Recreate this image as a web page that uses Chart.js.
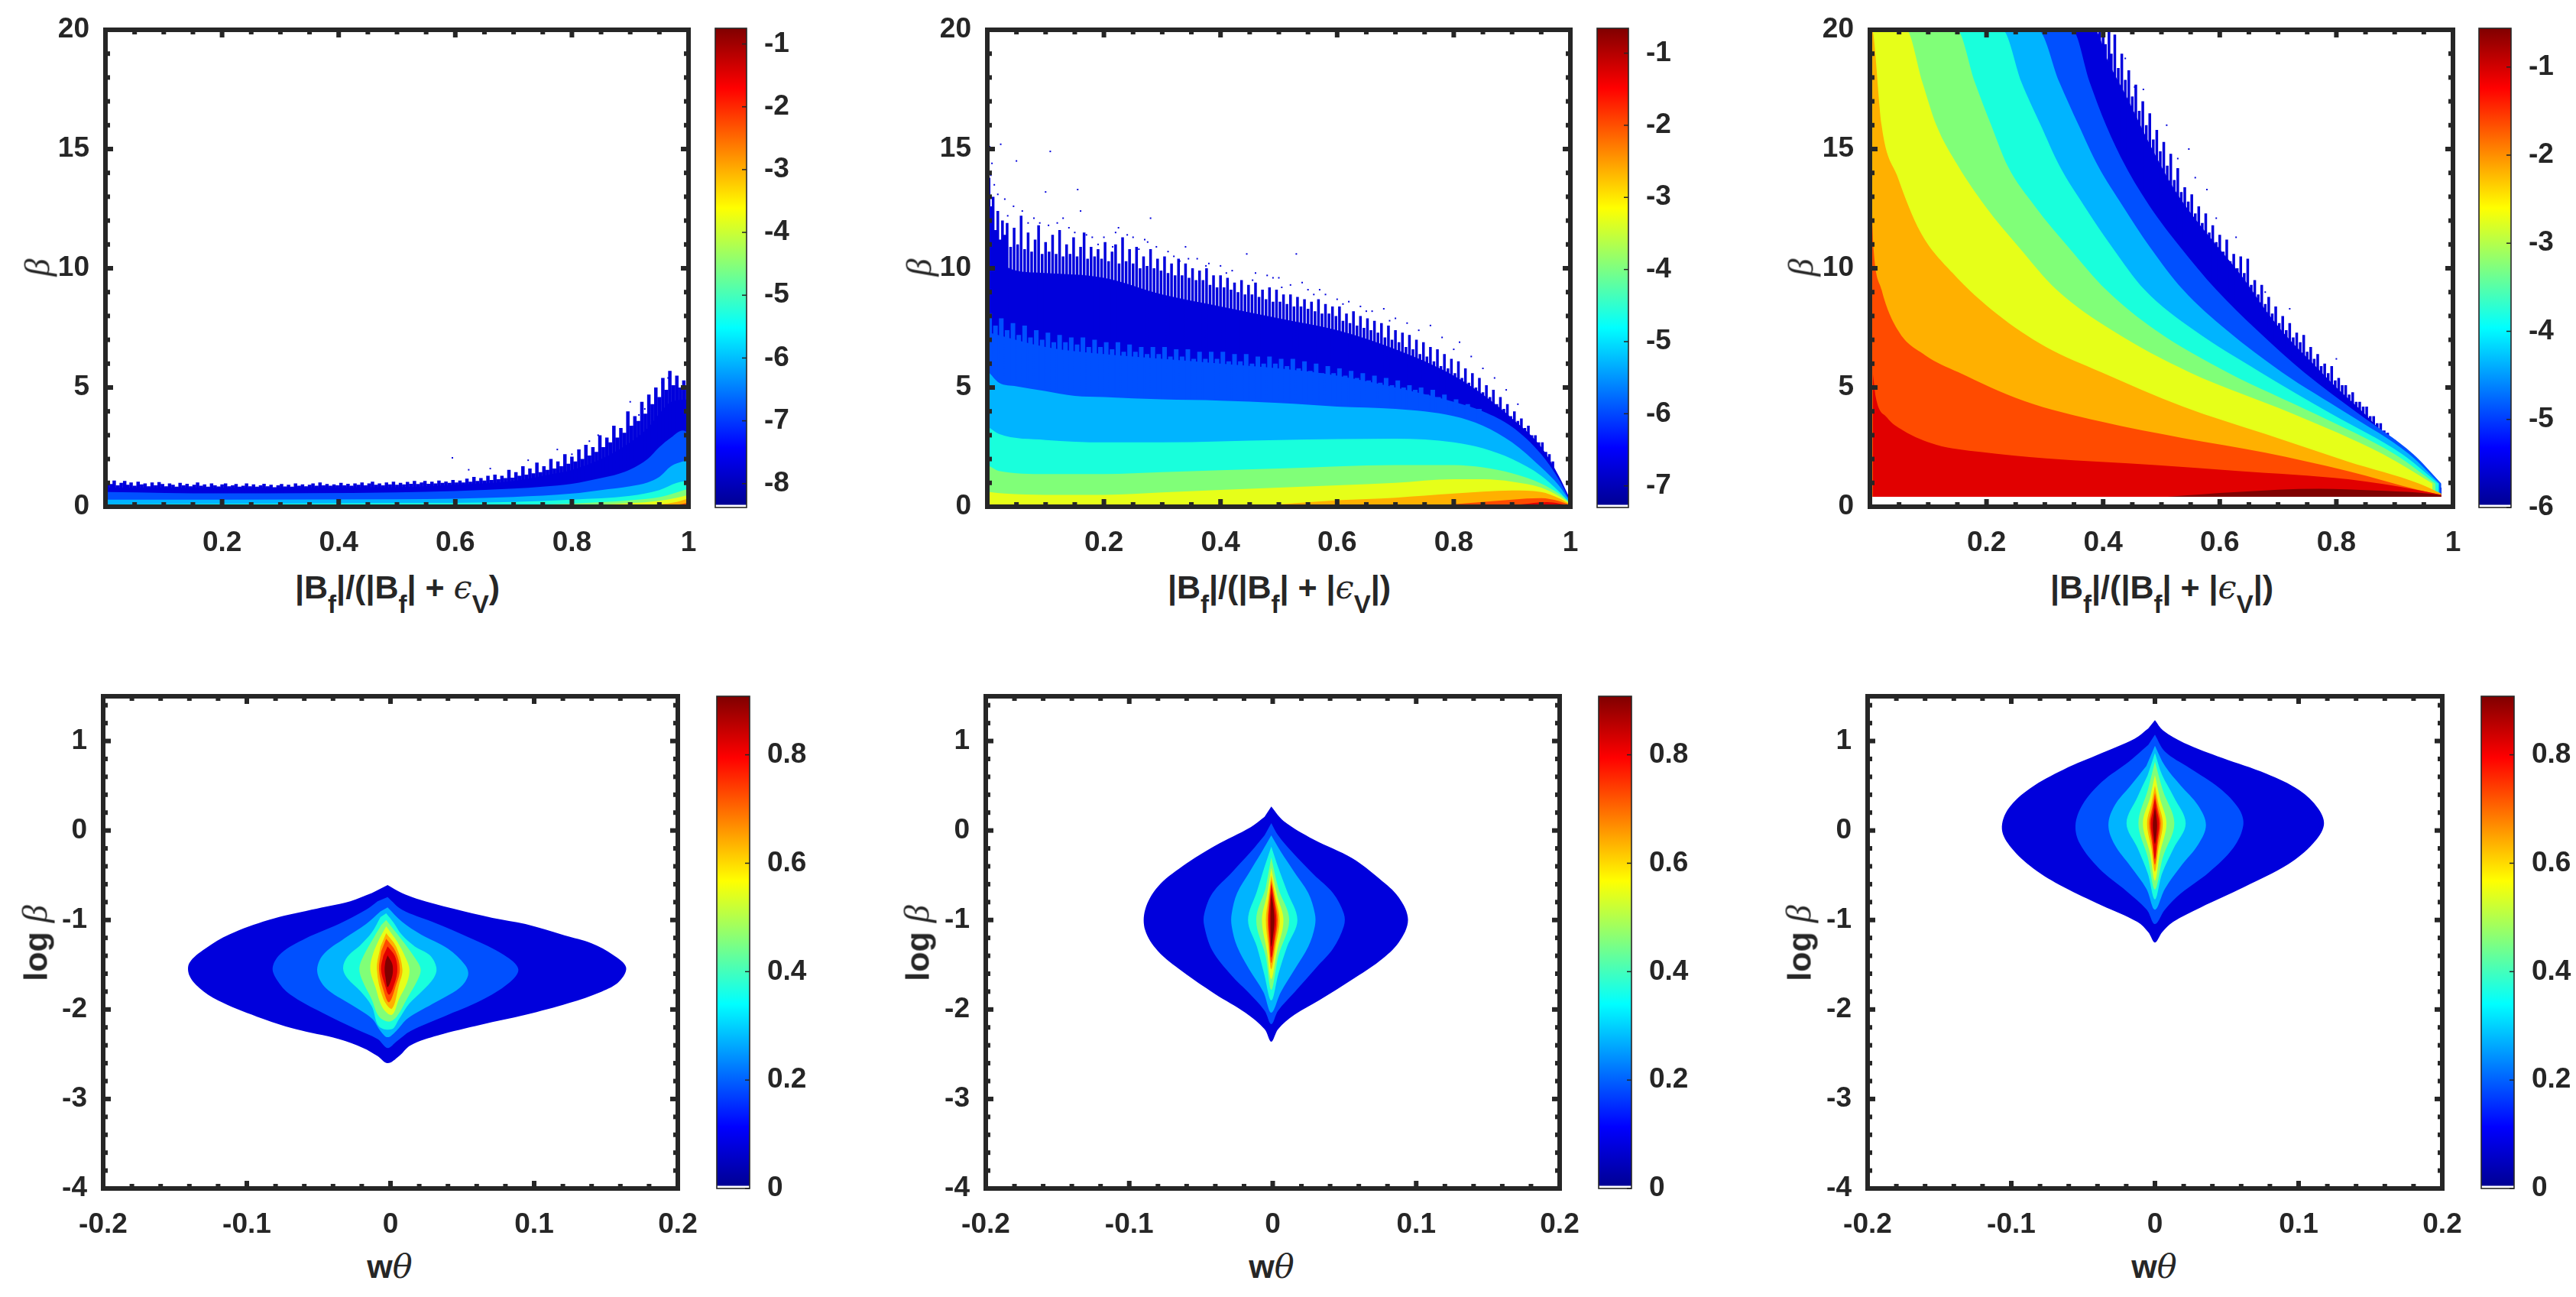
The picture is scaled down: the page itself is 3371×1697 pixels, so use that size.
<!DOCTYPE html>
<html>
<head>
<meta charset="utf-8">
<title>beta contours</title>
<script src="https://cdn.jsdelivr.net/npm/chart.js@4"></script>
<style>
    html, body { margin: 0; padding: 0; background: #fff; overflow: hidden; }
    #page { position: relative; width: 3371px; height: 1697px; }
    canvas { position: absolute; }
    .lab { position: absolute; transform: translate(-50%, -50%); white-space: nowrap; color: #262626;
           font: bold 43px "Liberation Sans", Arial, sans-serif; line-height: 50px; }
    .lab sub { font-size: 33px; vertical-align: -19px; line-height: 0; }
    .lab i { font: italic 43px "DejaVu Serif", serif; }
    .rot { transform: translate(-50%, -50%) rotate(-90deg); }
    .rot i { font: italic 46px "Liberation Serif", serif; }
</style>
</head>
<body>
<div id="page"></div>
<script>
// contour levels, outermost first
const bandColors = ['#0000DC', '#0050FF', '#00B4FF', '#19FFDC', '#80FF78', '#E6FF19', '#FFB000', '#FF4B00', '#E10000', '#800000'];
const jetStops = [[0, '#00008F'], [0.125, '#0000FF'], [0.375, '#00FFFF'], [0.625, '#FFFF00'], [0.875, '#FF0000'], [1, '#800000']];

const topXTicks = [0.2, 0.4, 0.6, 0.8, 1];
const topXMinor = [0.05, 0.1, 0.15, 0.25, 0.3, 0.35, 0.45, 0.5, 0.55, 0.65, 0.7, 0.75, 0.85, 0.9, 0.95];
const topYTicks = [0, 5, 10, 15, 20];
const topYMinor = [1, 2, 3, 4, 6, 7, 8, 9, 11, 12, 13, 14, 16, 17, 18, 19];
const lowXTicks = [-0.2, -0.1, 0, 0.1, 0.2];
const lowXMinor = [-0.18, -0.16, -0.14, -0.12, -0.08, -0.06, -0.04, -0.02, 0.02, 0.04, 0.06, 0.08, 0.12, 0.14, 0.16, 0.18];
const lowYTicks = [-4, -3, -2, -1, 0, 1];
const lowYMinor = [-3.8, -3.6, -3.4, -3.2, -2.8, -2.6, -2.4, -2.2, -1.8, -1.6, -1.4, -1.2, -0.8, -0.6, -0.4, -0.2, 0.2, 0.4, 0.6, 0.8, 1.2, 1.4];

const bar1Ticks = [-8, -7, -6, -5, -4, -3, -2, -1];
const bar2Ticks = [-7, -6, -5, -4, -3, -2, -1];
const bar3Ticks = [-6, -5, -4, -3, -2, -1];
const barLowTicks = [0, 0.2, 0.4, 0.6, 0.8];

// panel 1
const a1 = [[.004,.8],[.5,.82],[.6,.92],[.7,1.08],[.75,1.3],[.8,1.55],[.85,2.0],[.9,2.7],[.93,3.3],[.95,3.9],[.97,4.4],[1,4.5]];
const rag1 = [[.004,1.05],[.01,.95],[.015,1.1],[.021,.9],[.027,1.0],[.033,1.08],[.038,.92],[.044,1.02],[.05,.88],[.056,1.05],[.062,.94],[.068,.98],[.074,.86],[.08,1.02],[.086,.9],[.092,1.03],[.098,.95],[.104,.86],[.11,.98],[.116,.92],[.122,.84],[.128,1.0],[.134,.9],[.14,.96],[.146,.86],[.152,.92],[.158,1.02],[.164,.88],[.17,.94],[.176,.84],[.182,.98],[.188,.9],[.194,.85],[.2,.94],[.206,.98],[.212,.86],[.218,.9],[.224,.95],[.23,.84],[.236,.88],[.242,.98],[.248,.86],[.254,.94],[.26,.84],[.266,.9],[.272,.96],[.278,.86],[.284,.92],[.29,.82],[.296,.9],[.302,.95],[.308,.85],[.314,.92],[.32,.84],[.326,.98],[.332,.88],[.338,.94],[.344,.86],[.35,.92],[.356,.98],[.362,.88],[.368,1.02],[.374,.9],[.38,.95],[.386,.88],[.392,.94],[.398,.9],[.404,1.0],[.41,.9],[.416,.96],[.422,.88],[.428,.98],[.434,.92],[.44,1.02],[.446,.9],[.452,.98],[.458,1.05],[.464,.92],[.47,.98],[.476,.9],[.482,1.02],[.488,.94],[.494,1.05],[.5,.92],[.506,1.0],[.512,.94],[.518,1.04],[.524,.96],[.53,1.08],[.536,.95],[.542,1.02],[.548,1.08],[.554,.96],[.56,1.05],[.566,.98],[.572,1.1],[.578,1.0],[.584,1.06],[.59,1.0],[.596,1.12],[.602,1.02],[.608,1.1],[.614,1.02],[.62,1.18],[.626,1.05],[.632,1.25],[.638,1.08],[.644,1.2],[.65,1.1],[.656,1.3],[.662,1.12],[.668,1.35],[.674,1.15],[.68,1.3],[.686,1.2],[.692,1.55],[.698,1.22],[.704,1.45],[.71,1.3],[.716,1.7],[.722,1.35],[.728,1.6],[.734,1.4],[.74,1.85],[.746,1.45],[.752,1.7],[.758,1.55],[.764,2.0],[.77,1.6],[.776,1.9],[.782,1.7],[.788,2.2],[.794,1.8],[.8,2.1],[.806,1.9],[.812,2.4],[.818,2.0],[.824,2.6],[.83,2.15],[.836,2.5],[.842,2.3],[.848,3.0],[.854,2.5],[.86,2.9],[.866,2.7],[.872,3.4],[.878,2.9],[.884,3.3],[.89,3.1],[.896,4.0],[.902,3.4],[.908,3.8],[.914,3.6],[.92,4.4],[.926,3.9],[.932,4.7],[.938,4.3],[.944,5.0],[.95,4.6],[.956,5.4],[.962,4.9],[.968,5.7],[.974,5.1],[.98,5.5],[.986,5.0],[.992,5.3],[.998,5.0]];
const b1 = [[.004,.62],[.2,.56],[.5,.6],[.6,.66],[.7,.76],[.75,.84],[.8,.96],[.85,1.2],[.88,1.38],[.9,1.56],[.93,2.0],[.95,2.5],[.97,2.9],[.99,3.2],[1,3.1]];
const c1 = [[.004,.3],[.2,.3],[.5,.31],[.7,.41],[.8,.55],[.85,.7],[.9,.86],[.93,1.02],[.95,1.25],[.97,1.7],[.99,1.9],[1,1.95]];
const d1 = [[.004,.1],[.2,.12],[.5,.15],[.7,.2],[.8,.3],[.9,.46],[.95,.7],[.98,1.0],[1,1.1]];
const e1 = [[.4,0],[.5,.03],[.7,.08],[.8,.13],[.9,.27],[.95,.4],[.98,.6],[1,.75]];
const f1 = [[.7,0],[.8,.05],[.9,.15],[.95,.25],[.98,.38],[1,.5]];
const g1 = [[.9,0],[.95,.1],[.98,.2],[1,.35]];
const h1 = [[.95,0],[.98,.08],[1,.18]];
const i1 = [[.99,0],[1,.08]];
const specks1 = [[.595,2.05],[.623,1.55],[.66,1.6],[.725,1.95],[.775,2.4],[.8,2.2],[.83,2.75],[.845,3.0],[.9,4.4],[.925,4.1],[.955,5.2],[.965,5.4],[.915,3.85]];

// panel 2
const a2 = [[.004,10.8],[.02,10.3],[.05,9.9],[.1,9.8],[.2,9.6],[.3,8.9],[.4,8.4],[.5,7.9],[.6,7.4],[.7,6.6],[.8,5.5],[.85,4.7],[.9,3.7],[.95,2.5],[.98,1.3],[1,.3]];
const rag2 = [[.003,13.8],[.006,12.6],[.01,13.0],[.014,11.6],[.018,12.4],[.022,11.2],[.026,12.0],[.03,11.4],[.034,11.9],[.04,10.9],[.046,11.7],[.052,11.0],[.058,12.2],[.064,10.8],[.07,11.5],[.076,10.7],[.082,11.2],[.088,11.8],[.094,10.6],[.1,11.1],[.106,10.7],[.112,11.4],[.118,10.6],[.124,11.6],[.13,10.5],[.136,11.0],[.142,10.6],[.148,11.3],[.154,10.5],[.16,10.9],[.166,11.5],[.172,10.4],[.178,10.9],[.184,10.5],[.19,10.8],[.196,10.4],[.202,11.1],[.208,10.3],[.214,10.7],[.22,11.0],[.226,10.2],[.232,11.3],[.238,10.3],[.244,10.8],[.25,10.2],[.256,10.9],[.262,10.0],[.268,10.5],[.274,10.1],[.28,10.8],[.286,10.0],[.292,10.4],[.298,9.9],[.304,10.5],[.31,9.8],[.316,10.2],[.322,9.7],[.328,10.4],[.334,9.7],[.34,10.2],[.346,9.6],[.352,10.0],[.358,9.5],[.364,9.9],[.37,9.5],[.376,10.0],[.382,9.3],[.388,9.7],[.394,9.2],[.4,9.7],[.406,9.2],[.412,9.6],[.418,9.1],[.424,9.4],[.43,9.0],[.436,9.5],[.442,8.9],[.448,9.3],[.454,8.9],[.46,9.4],[.466,8.8],[.472,9.1],[.478,8.7],[.484,9.2],[.49,8.6],[.496,9.1],[.502,8.6],[.508,8.9],[.514,8.5],[.52,8.9],[.526,8.4],[.532,8.8],[.538,8.4],[.544,8.7],[.55,8.3],[.556,8.6],[.562,8.2],[.568,8.7],[.574,8.1],[.58,8.5],[.586,8.1],[.592,8.4],[.598,8.0],[.604,8.4],[.61,7.8],[.616,8.1],[.622,7.7],[.628,8.2],[.634,7.6],[.64,8.0],[.646,7.5],[.652,7.9],[.658,7.4],[.664,7.8],[.67,7.3],[.676,7.7],[.682,7.1],[.688,7.6],[.694,7.0],[.7,7.4],[.706,6.9],[.712,7.3],[.718,6.7],[.724,7.2],[.73,6.6],[.736,7.0],[.742,6.4],[.748,6.9],[.754,6.3],[.76,6.7],[.766,6.1],[.772,6.6],[.778,5.9],[.784,6.4],[.79,5.8],[.796,6.2],[.802,5.6],[.808,6.1],[.814,5.4],[.82,5.8],[.826,5.2],[.832,5.6],[.838,5.0],[.844,5.4],[.85,4.8],[.856,5.1],[.862,4.6],[.868,4.9],[.874,4.3],[.88,4.6],[.886,4.1],[.892,4.3],[.898,3.8],[.904,4.0],[.91,3.6],[.916,3.7],[.922,3.3],[.928,3.4],[.934,3.0],[.94,3.0],[.946,2.7],[.952,2.7],[.958,2.3],[.964,2.2],[.97,1.9]];
const b2 = [[.004,7.3],[.1,6.7],[.2,6.4],[.3,6.2],[.4,6.0],[.5,5.8],[.6,5.5],[.7,5.0],[.8,4.4],[.85,4.0],[.9,3.35],[.95,2.2],[.98,1.15],[1,.2]];
const ragB2 = [[.004,8.1],[.014,7.6],[.024,7.9],[.034,7.4],[.044,7.7],[.054,7.2],[.064,7.6],[.074,7.1],[.084,7.4],[.094,7.0],[.104,7.3],[.114,6.9],[.124,7.2],[.134,6.9],[.144,7.1],[.154,6.8],[.164,7.1],[.174,6.7],[.184,7.0],[.194,6.7],[.204,6.9],[.214,6.6],[.224,6.9],[.234,6.5],[.244,6.8],[.254,6.5],[.264,6.7],[.274,6.4],[.284,6.7],[.294,6.4],[.304,6.7],[.314,6.3],[.324,6.6],[.334,6.3],[.344,6.6],[.354,6.2],[.364,6.5],[.374,6.2],[.384,6.5],[.394,6.2],[.404,6.5],[.414,6.1],[.424,6.4],[.434,6.1],[.444,6.4],[.454,6.0],[.464,6.3],[.474,6.0],[.484,6.3],[.494,6.0],[.504,6.2],[.514,5.9],[.524,6.2],[.534,5.8],[.544,6.1],[.554,5.7],[.564,6.0],[.574,5.6],[.584,5.9],[.594,5.6],[.604,5.8],[.614,5.5],[.624,5.7],[.634,5.4],[.644,5.6],[.654,5.3],[.664,5.5],[.674,5.2],[.684,5.4],[.694,5.1],[.704,5.3],[.714,5.0],[.724,5.1],[.734,4.9],[.744,5.0],[.754,4.7],[.764,4.9],[.774,4.6],[.784,4.7],[.794,4.4],[.804,4.5],[.814,4.2],[.824,4.3],[.834,4.0],[.844,4.1]];
const c2 = [[.004,5.6],[.02,5.2],[.05,5.05],[.1,4.85],[.15,4.65],[.2,4.6],[.3,4.5],[.4,4.45],[.5,4.35],[.6,4.2],[.7,4.1],[.8,3.8],[.85,3.4],[.9,2.7],[.95,1.65],[.98,.9],[1,.2]];
const d2 = [[.004,3.3],[.02,3.05],[.1,2.8],[.2,2.7],[.3,2.7],[.5,2.8],[.7,2.85],[.8,2.7],[.85,2.45],[.9,2.0],[.95,1.3],[.98,.65],[1,.15]];
const e2 = [[.004,1.7],[.02,1.5],[.1,1.37],[.2,1.37],[.3,1.45],[.5,1.6],[.7,1.75],[.8,1.75],[.85,1.65],[.9,1.4],[.95,.97],[.98,.55],[1,.15]];
const f2 = [[.004,.62],[.03,.55],[.1,.5],[.2,.5],[.3,.6],[.5,.8],[.7,1.0],[.8,1.15],[.85,1.15],[.9,1.05],[.95,.8],[.98,.45],[1,.12]];
const g2 = [[.45,0],[.6,.27],[.7,.38],[.8,.55],[.9,.68],[.95,.62],[.98,.36],[1,.1]];
const h2 = [[.75,0],[.85,.2],[.9,.3],[.95,.36],[.98,.24],[1,.07]];
const i2 = [[.88,0],[.93,.14],[.96,.19],[.98,.14],[1,.03]];
const specks2 = [[.004,15.1],[.008,14.4],[.006,13.9],[.012,13.5],[.018,13.1],[.023,15.2],[.05,14.5],[.108,14.9],[.155,13.3],[.1,13.2],[.03,12.9],[.045,12.6],[.06,12.4],[.08,12.1],[.09,11.9],[.12,11.9],[.13,12.1],[.14,11.7],[.15,11.5],[.16,12.4],[.17,11.4],[.18,11.3],[.2,11.3],[.22,11.5],[.225,11.7],[.24,11.4],[.25,11.3],[.27,11.2],[.275,11.1],[.28,12.1],[.29,10.9],[.31,10.7],[.32,10.5],[.34,10.9],[.345,10.4],[.36,10.4],[.38,10.2],[.4,10.1],[.42,9.9],[.445,10.6],[.53,10.6],[.46,9.8],[.48,9.7],[.49,9.6],[.5,9.6],[.52,9.3],[.54,9.4],[.55,9.1],[.57,9.1],[.58,8.9],[.6,8.7],[.62,8.6],[.64,8.4],[.66,8.2],[.68,8.3],[.7,7.9],[.72,7.7],[.76,7.6],[.78,7.1],[.8,6.6],[.81,6.9],[.83,6.3],[.85,5.8],[.87,5.4],[.89,4.9],[.91,4.3],[.035,12.2],[.07,11.9],[.105,11.8],[.19,11],[.215,10.9],[.26,10.8],[.33,10.3],[.375,10.1],[.41,9.8],[.455,9.5],[.505,9.2],[.56,8.9],[.61,8.5],[.65,8.2],[.69,7.8],[.74,7.4]];

// panel 3
const a3 = [[.004,20],[.385,20],[.41,18.6],[.44,17.2],[.48,15.2],[.52,13.4],[.56,12],[.6,10.8],[.64,9.6],[.68,8.2],[.72,7],[.76,6],[.8,5],[.84,4.1],[.88,3.1],[.92,2.1],[.96,1.1],[.98,.6]];
const rag3 = [[.388,20],[.394,20],[.4,20],[.404,19.4],[.41,20],[.414,19.0],[.42,19.8],[.426,18.4],[.432,19.0],[.438,17.9],[.444,18.3],[.45,17.2],[.456,17.7],[.462,16.6],[.468,17.0],[.474,16.0],[.48,16.5],[.486,15.4],[.492,15.8],[.498,14.9],[.504,15.3],[.51,14.3],[.516,14.8],[.522,13.7],[.528,14.2],[.534,13.2],[.54,13.4],[.546,12.8],[.552,13.1],[.558,12.3],[.564,12.6],[.57,11.9],[.576,12.3],[.582,11.5],[.588,11.8],[.594,11.1],[.6,11.4],[.606,10.7],[.612,11.2],[.618,10.3],[.624,10.6],[.63,10.0],[.636,10.5],[.642,9.8],[.648,10.4],[.654,9.3],[.66,9.5],[.666,8.9],[.672,9.3],[.678,8.5],[.684,8.8],[.69,8.1],[.696,8.4],[.702,7.7],[.708,8.0],[.714,7.4],[.72,7.7],[.726,7.1],[.732,7.3],[.738,6.9],[.744,7.2],[.75,6.5],[.756,6.7],[.762,6.2],[.768,6.4],[.774,5.9],[.78,6.0],[.786,5.6],[.792,5.9],[.798,5.3],[.804,5.4],[.81,5.1],[.816,5.1],[.822,4.7],[.828,4.8],[.834,4.4],[.84,4.4],[.846,4.2],[.852,4.2],[.858,3.8],[.864,3.8],[.87,3.5],[.876,3.5],[.882,3.2],[.888,3.1],[.894,2.8],[.9,2.8],[.906,2.5],[.912,2.5],[.918,2.2],[.924,2.1],[.93,1.9],[.936,1.8],[.942,1.6],[.948,1.5],[.954,1.2],[.96,1.2],[.966,1.1],[.972,.9],[.978,.8]];
const b3 = [[.004,20],[.347,20],[.377,17.8],[.405,16],[.438,14.3],[.48,12.6],[.532,10.9],[.594,9.1],[.664,7.4],[.744,5.65],[.838,3.9],[.932,2.2],[.98,.97]];
const c3 = [[.004,20],[.288,20],[.325,17.8],[.358,16],[.391,14.3],[.434,12.6],[.48,10.9],[.537,9.1],[.612,7.4],[.706,5.65],[.819,3.9],[.925,2.2],[.977,.97]];
const d3 = [[.004,20],[.227,20],[.26,17.8],[.293,16],[.325,14.3],[.368,12.6],[.415,10.9],[.471,9.1],[.556,7.4],[.669,5.65],[.791,3.9],[.913,2.2],[.975,.97]];
const e3 = [[.004,20],[.149,20],[.18,17.8],[.208,16],[.236,14.3],[.283,12.6],[.34,10.9],[.405,9.1],[.49,7.4],[.612,5.65],[.763,3.9],[.9,2.2],[.97,.97]];
const f3 = [[.004,20],[.062,20],[.09,17.8],[.114,16],[.151,14.3],[.198,12.6],[.255,10.9],[.32,9.1],[.415,7.4],[.547,5.65],[.725,3.9],[.88,2.2],[.965,.97]];
const g3 = [[.004,20],[.006,19.8],[.02,16],[.048,13.8],[.086,11.55],[.142,9.8],[.217,8.1],[.302,6.7],[.396,5.65],[.537,4.2],[.678,3.05],[.819,1.9],[.942,.97],[.98,.55]];
const h3 = [[.004,12],[.006,10.9],[.02,9.1],[.048,7.4],[.095,6.35],[.151,5.65],[.264,4.44],[.396,3.57],[.537,2.88],[.678,2.27],[.819,1.5],[.942,.7],[.98,.5]];
const i3 = [[.005,5.6],[.01,4.6],[.029,3.75],[.057,3.2],[.114,2.6],[.189,2.3],[.302,2.03],[.49,1.75],[.631,1.5],[.82,1.15],[.94,.7],[.98,.5]];
const j3 = [[.51,.42],[.63,.62],[.77,.75],[.866,.68],[.94,.59],[.98,.49]];
const base3 = [[0,.42],[1,.42]];
const specks3 = [[.42,19.6],[.438,18.8],[.454,17.6],[.469,17.5],[.509,16],[.528,14.6],[.547,15],[.558,13.8],[.578,13.3],[.594,12.1],[.628,11.3],[.72,8.3],[.8,6.2],[.678,9]];

// panel 4
const a4 = [[-.002,-.61],[.008,-.70],[.018,-.76],[.044,-.875],[.071,-.976],[.094,-1.045],[.121,-1.17],[.14,-1.26],[.155,-1.39],[.164,-1.53],[.159,-1.69],[.147,-1.80],[.124,-1.93],[.094,-2.06],[.063,-2.17],[.033,-2.29],[.014,-2.40],[.006,-2.52],[-.002,-2.60],[-.009,-2.52],[-.019,-2.43],[-.036,-2.33],[-.066,-2.22],[-.093,-2.08],[-.12,-1.90],[-.133,-1.76],[-.14,-1.62],[-.14,-1.48],[-.129,-1.32],[-.112,-1.16],[-.085,-1.0],[-.055,-.885],[-.028,-.79],[-.013,-.70]];
const b4 = [[-.002,-.745],[.008,-.885],[.029,-1.02],[.056,-1.205],[.079,-1.39],[.089,-1.55],[.082,-1.71],[.063,-1.90],[.037,-2.08],[.014,-2.24],[.004,-2.36],[-.002,-2.43],[-.009,-2.33],[-.024,-2.22],[-.047,-2.04],[-.07,-1.83],[-.079,-1.67],[-.082,-1.53],[-.076,-1.37],[-.059,-1.205],[-.036,-1.045],[-.017,-.885],[-.009,-.79]];
const c4 = [[-.002,-.86],[.008,-1.02],[.021,-1.16],[.04,-1.32],[.052,-1.505],[.054,-1.62],[.048,-1.76],[.029,-1.94],[.012,-2.10],[.004,-2.24],[-.002,-2.31],[-.007,-2.24],[-.013,-2.10],[-.028,-1.94],[-.045,-1.76],[-.051,-1.575],[-.047,-1.39],[-.032,-1.205],[-.017,-1.045],[-.007,-.905]];
const d4 = [[-.003,-.925],[.002,-1.025],[.008,-1.167],[.017,-1.296],[.0275,-1.395],[.032,-1.538],[.030,-1.651],[.022,-1.794],[.013,-1.936],[.006,-2.107],[.001,-2.22],[-.008,-2.19],[-.013,-1.965],[-.021,-1.794],[-.030,-1.651],[-.033,-1.538],[-.030,-1.41],[-.021,-1.281],[-.013,-1.139],[-.007,-.968]];
const e4 = [[-.003,-1.0],[.008,-1.225],[.017,-1.424],[.021,-1.552],[.0186,-1.68],[.0115,-1.879],[.0044,-2.078],[-.001,-2.135],[-.008,-2.078],[-.0133,-1.879],[-.0195,-1.68],[-.0217,-1.538],[-.0186,-1.395],[-.0116,-1.196],[-.0063,-1.054]];
const f4 = [[-.003,-1.07],[.005,-1.25],[.0105,-1.42],[.0132,-1.55],[.0115,-1.7],[.006,-1.88],[.001,-2.06],[-.0055,-1.98],[-.0105,-1.75],[-.0141,-1.55],[-.0122,-1.38],[-.0075,-1.2]];
const g4 = [[-.003,-1.147],[.004,-1.3],[.0083,-1.55],[.006,-1.72],[.001,-1.99],[-.005,-1.88],[-.0095,-1.55],[-.007,-1.3]];
const h4 = [[-.003,-1.21],[.0035,-1.35],[.0065,-1.55],[.004,-1.72],[-.001,-1.92],[-.005,-1.78],[-.008,-1.55],[-.0065,-1.35]];
const i4 = [[-.002,-1.295],[.003,-1.4],[.0048,-1.55],[.003,-1.7],[-.001,-1.835],[-.004,-1.72],[-.0066,-1.55],[-.005,-1.4]];
const j4 = [[-.002,-1.395],[.001,-1.48],[.0017,-1.55],[.001,-1.64],[-.002,-1.75],[-.0035,-1.64],[-.0041,-1.55],[-.0035,-1.46]];

// panel 5
const a5 = [[-.001,.267],[.0076,.106],[.0286,-.101],[.0553,-.308],[.0744,-.539],[.0878,-.746],[.0943,-.999],[.0878,-1.253],[.0744,-1.46],[.0553,-1.667],[.0324,-1.897],[.0153,-2.058],[.0038,-2.219],[-.001,-2.36],[-.0057,-2.219],[-.0191,-2.035],[-.0401,-1.828],[-.063,-1.575],[-.0802,-1.344],[-.0889,-1.114],[-.0889,-.884],[-.0802,-.631],[-.063,-.401],[-.0401,-.17],[-.0153,.037],[-.0057,.152]];
const b5 = [[-.001,.083],[.0038,-.055],[.0134,-.239],[.0286,-.493],[.042,-.7],[.0496,-.93],[.0496,-1.068],[.042,-1.321],[.0305,-1.529],[.0153,-1.805],[.0038,-2.012],[-.001,-2.164],[-.0057,-2.012],[-.0172,-1.805],[-.0286,-1.621],[-.042,-1.344],[-.0477,-1.068],[-.0477,-.93],[-.042,-.7],[-.0286,-.47],[-.0153,-.239],[-.0057,-.055]];
const c5 = [[-.001,-.055],[.0057,-.239],[.0153,-.47],[.0248,-.7],[.0294,-.93],[.0294,-1.068],[.0248,-1.298],[.0153,-1.552],[.0057,-1.805],[-.001,-2.035],[-.0065,-1.805],[-.0164,-1.552],[-.0248,-1.298],[-.0286,-1.068],[-.0286,-.93],[-.0248,-.7],[-.0164,-.47],[-.0076,-.239]];
const d5 = [[-.001,-.18],[.004,-.42],[.010,-.68],[.0172,-1.0],[.010,-1.3],[.004,-1.6],[-.001,-1.9],[-.006,-1.6],[-.011,-1.3],[-.0172,-1.0],[-.011,-.68],[-.006,-.42]];
const e5 = [[-.001,-.3],[.004,-.65],[.0115,-1.0],[.004,-1.4],[-.001,-1.78],[-.005,-1.4],[-.0115,-1.0],[-.005,-.65]];
const f5 = [[-.001,-.42],[.003,-.72],[.0075,-1.0],[.003,-1.35],[-.001,-1.66],[-.004,-1.35],[-.0075,-1.0],[-.004,-.72]];
const g5 = [[-.001,-.5],[.002,-.75],[.0048,-1.0],[.002,-1.3],[-.001,-1.55],[-.003,-1.3],[-.0048,-1.0],[-.003,-.75]];
const h5 = [[-.001,-.56],[.0015,-.78],[.0035,-1.0],[.0015,-1.25],[-.001,-1.48],[-.0025,-1.25],[-.0035,-1.0],[-.0025,-.78]];
const i5 = [[-.001,-.6],[.001,-.8],[.0025,-1.0],[.001,-1.22],[-.001,-1.42],[-.002,-1.22],[-.0028,-1.0],[-.002,-.8]];
const j5 = [[-.001,-.7],[.0005,-.85],[.0012,-1.0],[.0005,-1.15],[-.001,-1.3],[-.0015,-1.15],[-.0016,-1.0],[-.0015,-.85]];

// panel 6
const a6 = [[0,1.234],[.0057,1.118],[.0202,.98],[.047,.81],[.0775,.635],[.1004,.451],[.1137,.244],[.1176,.06],[.11,-.147],[.0928,-.377],[.0622,-.631],[.0317,-.861],[.0126,-1.022],[.005,-1.137],[0,-1.252],[-.0046,-1.137],[-.0122,-1.022],[-.037,-.838],[-.0637,-.631],[-.0847,-.423],[-.1,-.193],[-.1065,.014],[-.102,.244],[-.0867,.474],[-.0637,.681],[-.037,.865],[-.0141,1.026],[-.0046,1.141]];
const b6 = [[0,1.07],[.0069,.884],[.024,.70],[.045,.474],[.0584,.244],[.0615,.06],[.0546,-.193],[.0374,-.47],[.0183,-.70],[.0069,-.884],[0,-1.045],[-.0057,-.884],[-.0198,-.677],[-.0389,-.423],[-.0523,-.147],[-.0553,.06],[-.0504,.29],[-.037,.543],[-.0179,.773],[-.0046,.958]];
const c6 = [[0,.948],[.007,.72],[.018,.5],[.03,.28],[.0355,.06],[.03,-.16],[.018,-.4],[.007,-.65],[0,-.884],[-.006,-.65],[-.017,-.4],[-.028,-.16],[-.0324,.06],[-.028,.28],[-.017,.5],[-.006,.72]];
const d6 = [[0,.866],[.005,.62],[.013,.38],[.0214,.08],[.013,-.2],[.005,-.48],[0,-.77],[-.005,-.48],[-.012,-.2],[-.0198,.08],[-.012,.38],[-.005,.62]];
const e6 = [[0,.77],[.0055,.45],[.0135,.08],[.0055,-.3],[0,-.66],[-.005,-.3],[-.0115,.08],[-.005,.45]];
const f6 = [[0,.62],[.0035,.36],[.008,.08],[.0035,-.25],[0,-.56],[-.0035,-.25],[-.0084,.08],[-.0035,.36]];
const g6 = [[0,.5],[.0025,.3],[.0055,.08],[.0025,-.2],[0,-.46],[-.0025,-.2],[-.0055,.08],[-.0025,.3]];
const h6 = [[0,.42],[.002,.25],[.004,.08],[.002,-.15],[0,-.38],[-.002,-.15],[-.004,.08],[-.002,.25]];
const i6 = [[0,.36],[.0015,.22],[.003,.08],[.0015,-.12],[0,-.32],[-.0015,-.12],[-.003,.08],[-.0015,.22]];
const j6 = [[0,.26],[.001,.16],[.0015,.06],[.001,-.05],[0,-.15],[-.001,-.05],[-.0015,.06],[-.001,.16]];

const inkColor = '#262626';
const tickFont = { family: '"Liberation Sans", Arial, sans-serif', size: 37, weight: 'bold' };
const page = document.getElementById('page');

function toPoints(list) {
    return list.map(function(p) { return { x: p[0], y: p[1] }; });
}

function bandSets(bands, fillMode, tension, smooth) {
    return bands.map(function(band, i) {
        return {
            data: toPoints(band),
            showLine: true,
            fill: fillMode,
            tension: tension,
            cubicInterpolationMode: smooth ? 'monotone' : 'default',
            borderWidth: 0,
            pointRadius: 0,
            backgroundColor: bandColors[i],
            order: 100 - i
        };
    });
}

// ragged top of a band: columns from zero up to each value, painted just under the next band
function ragSet(list, colorIdx, width) {
    const pts = [];
    list.forEach(function(p) {
        pts.push({ x: p[0], y: 0 }, { x: p[0], y: p[1] }, { x: p[0], y: null });
    });
    return {
        data: pts, showLine: true, spanGaps: false, fill: false, borderWidth: width,
        borderCapStyle: 'butt', borderColor: bandColors[colorIdx], pointRadius: 0, order: 99.5 - colorIdx
    };
}

// inward ticks and the heavy box round each panel
function boxPlugin(xMajor, xMinor, yMajor, yMinor) {
    return {
        id: 'box',
        afterDraw: function(chart) {
            const c = chart.ctx, a = chart.chartArea;
            const sx = chart.scales.x, sy = chart.scales.y;
            c.save();
            c.fillStyle = inkColor;
            function vTick(v, len) {
                const px = sx.getPixelForValue(v);
                c.fillRect(px - 3, a.top, 6, len);
                c.fillRect(px - 3, a.bottom - len, 6, len);
            }
            function hTick(v, len) {
                const py = sy.getPixelForValue(v);
                c.fillRect(a.left, py - 3, len, 6);
                c.fillRect(a.right - len, py - 3, len, 6);
            }
            xMajor.forEach(function(v) { vTick(v, 10); });
            xMinor.forEach(function(v) { vTick(v, 6); });
            yMajor.forEach(function(v) { hTick(v, 10); });
            yMinor.forEach(function(v) { hTick(v, 6); });
            c.strokeStyle = inkColor;
            c.lineWidth = 6;
            c.strokeRect(a.left, a.top, a.right - a.left, a.bottom - a.top);
            c.restore();
        }
    };
}

function makePanel(box, xRange, yRange, xMajor, xMinor, yMajor, yMinor, datasets) {
    const leftRoom = 130, topRoom = 45, rightRoom = 60, lowRoom = 70;
    const cv = document.createElement('canvas');
    cv.width = box.r - box.l + leftRoom + rightRoom;
    cv.height = box.b - box.t + topRoom + lowRoom;
    cv.style.left = (box.l - leftRoom) + 'px';
    cv.style.top = (box.t - topRoom) + 'px';
    page.appendChild(cv);

    new Chart(cv.getContext('2d'), {
        type: 'scatter',
        data: { datasets: datasets },
        plugins: [boxPlugin(xMajor, xMinor, yMajor, yMinor)],
        options: {
            responsive: false,
            animation: false,
            devicePixelRatio: 1,
            layout: { padding: { top: topRoom, right: rightRoom, left: 0, bottom: 0 } },
            plugins: { legend: { display: false }, tooltip: { enabled: false } },
            scales: {
                x: {
                    type: 'linear', min: xRange[0], max: xRange[1],
                    grid: { display: false }, border: { display: false },
                    afterBuildTicks: function(s) { s.ticks = xMajor.map(function(v) { return { value: v }; }); },
                    afterFit: function(s) { s.height = lowRoom; },
                    ticks: { font: tickFont, color: inkColor, padding: 18, maxRotation: 0, minRotation: 0, autoSkip: false,
                        callback: function(v) { return String(v); } }
                },
                y: {
                    type: 'linear', min: yRange[0], max: yRange[1],
                    grid: { display: false }, border: { display: false },
                    afterBuildTicks: function(s) { s.ticks = yMajor.map(function(v) { return { value: v }; }); },
                    afterFit: function(s) { s.width = leftRoom; },
                    ticks: { font: tickFont, color: inkColor, padding: 13, autoSkip: false,
                        callback: function(v) { return String(v); } }
                }
            }
        }
    });
}

// colour bar is a single floating bar painted with the jet ramp
function makeBar(box, range, ticks) {
    const topRoom = 45, lowRoom = 45, sideRoom = 5, labelRoom = 105;
    const cv = document.createElement('canvas');
    cv.width = box.r - box.l + sideRoom + labelRoom;
    cv.height = box.b - box.t + topRoom + lowRoom;
    cv.style.left = (box.l - sideRoom) + 'px';
    cv.style.top = (box.t - topRoom) + 'px';
    page.appendChild(cv);

    const span = range[1] - range[0];
    new Chart(cv.getContext('2d'), {
        type: 'bar',
        data: {
            labels: [''],
            datasets: [{
                data: [[range[0] + span * 0.006, range[1]]],
                barPercentage: 1,
                categoryPercentage: 1,
                backgroundColor: function(ctx) {
                    const a = ctx.chart.chartArea;
                    if (!a) return '#0000ff';
                    const g = ctx.chart.ctx.createLinearGradient(0, a.bottom, 0, a.top);
                    jetStops.forEach(function(s) { g.addColorStop(s[0], s[1]); });
                    return g;
                }
            }]
        },
        plugins: [{
            id: 'barBox',
            afterDraw: function(chart) {
                const c = chart.ctx, a = chart.chartArea, sy = chart.scales.y;
                c.save();
                c.fillStyle = inkColor;
                ticks.forEach(function(v) {
                    c.fillRect(a.right - 6, sy.getPixelForValue(v) - 0.75, 6, 1.5);
                });
                c.strokeStyle = inkColor;
                c.lineWidth = 1.6;
                c.strokeRect(a.left, a.top, a.right - a.left, a.bottom - a.top);
                c.restore();
            }
        }],
        options: {
            responsive: false,
            animation: false,
            devicePixelRatio: 1,
            layout: { padding: { top: topRoom, bottom: lowRoom, left: sideRoom, right: 0 } },
            plugins: { legend: { display: false }, tooltip: { enabled: false } },
            scales: {
                x: { display: false },
                y: {
                    position: 'right', min: range[0], max: range[1],
                    grid: { display: false }, border: { display: false },
                    afterBuildTicks: function(s) { s.ticks = ticks.map(function(v) { return { value: v }; }); },
                    afterFit: function(s) { s.width = labelRoom; },
                    ticks: { font: tickFont, color: inkColor, padding: 15, autoSkip: false,
                        callback: function(v) { return String(v); } }
                }
            }
        }
    });
}

function addLabel(html, x, y, rotated) {
    const d = document.createElement('div');
    d.className = rotated ? 'lab rot' : 'lab';
    d.style.left = x + 'px';
    d.style.top = y + 'px';
    d.innerHTML = html;
    page.appendChild(d);
}

function specks(list) {
    return {
        data: toPoints(list), showLine: false, pointStyle: 'rect', pointRadius: 1.4, pointBorderWidth: 0,
        backgroundColor: '#0000DC', pointBackgroundColor: '#0000DC', order: 0
    };
}

const xTop = [0, 1], yTop = [0, 20], xLow = [-0.2, 0.2], yLow = [-4, 1.5];

makePanel({ l: 138, r: 901, t: 39, b: 663 }, xTop, yTop, topXTicks, topXMinor, topYTicks, topYMinor,
    bandSets([a1, b1, c1, d1, e1, f1, g1, h1, i1], 'origin', 0, true).concat([ragSet(rag1, 0, 4.5), specks(specks1)]));
makePanel({ l: 1292, r: 2055, t: 39, b: 663 }, xTop, yTop, topXTicks, topXMinor, topYTicks, topYMinor,
    bandSets([a2, b2, c2, d2, e2, f2, g2, h2, i2], 'origin', 0, true).concat([ragSet(rag2, 0, 3.5), ragSet(ragB2, 1, 6), specks(specks2)]));

// the last band in panel 3 is dark red, the white strip under it hides the fill down to zero
const set3 = bandSets([a3, b3, c3, d3, e3, f3, g3, h3, i3, j3], 'origin', 0, true);
set3.push(ragSet(rag3, 0, 3.5));
set3.push({ data: toPoints(base3), showLine: true, fill: 'origin', borderWidth: 0, pointRadius: 0, backgroundColor: '#ffffff', order: 1 });
set3.push(specks(specks3));
makePanel({ l: 2447, r: 3210, t: 39, b: 663 }, xTop, yTop, topXTicks, topXMinor, topYTicks, topYMinor, set3);

makePanel({ l: 135, r: 887, t: 911, b: 1555 }, xLow, yLow, lowXTicks, lowXMinor, lowYTicks, lowYMinor,
    bandSets([a4, b4, c4, d4, e4, f4, g4, h4, i4, j4], 'shape', 0.35, false));
makePanel({ l: 1290, r: 2041, t: 911, b: 1555 }, xLow, yLow, lowXTicks, lowXMinor, lowYTicks, lowYMinor,
    bandSets([a5, b5, c5, d5, e5, f5, g5, h5, i5, j5], 'shape', 0.35, false));
makePanel({ l: 2444, r: 3196, t: 911, b: 1555 }, xLow, yLow, lowXTicks, lowXMinor, lowYTicks, lowYMinor,
    bandSets([a6, b6, c6, d6, e6, f6, g6, h6, i6, j6], 'shape', 0.35, false));

makeBar({ l: 936, r: 977, t: 37, b: 664 }, [-8.38, -0.75], bar1Ticks);
makeBar({ l: 2090, r: 2131, t: 37, b: 664 }, [-7.3, -0.655], bar2Ticks);
makeBar({ l: 3244, r: 3286, t: 37, b: 664 }, [-6, -0.56], bar3Ticks);
makeBar({ l: 938, r: 981, t: 911, b: 1555 }, [0, 0.908], barLowTicks);
makeBar({ l: 2092, r: 2135, t: 911, b: 1555 }, [0, 0.908], barLowTicks);
makeBar({ l: 3247, r: 3290, t: 911, b: 1555 }, [0, 0.908], barLowTicks);

const fracA = '|B<sub>f</sub>|/(|B<sub>f</sub>| + <i>&#1013;</i><sub>V</sub>)';
const fracB = '|B<sub>f</sub>|/(|B<sub>f</sub>| + |<i>&#1013;</i><sub>V</sub>|)';
addLabel(fracA, 520, 768);
addLabel(fracB, 1674, 768);
addLabel(fracB, 2829, 768);
addLabel('w<i>&theta;</i>', 510, 1657);
addLabel('w<i>&theta;</i>', 1664, 1657);
addLabel('w<i>&theta;</i>', 2819, 1657);
addLabel('<i>&beta;</i>', 49, 350, true);
addLabel('<i>&beta;</i>', 1203, 350, true);
addLabel('<i>&beta;</i>', 2357, 350, true);
addLabel('log <i>&beta;</i>', 46, 1234, true);
addLabel('log <i>&beta;</i>', 1200, 1234, true);
addLabel('log <i>&beta;</i>', 2354, 1234, true);
</script>
</body>
</html>
